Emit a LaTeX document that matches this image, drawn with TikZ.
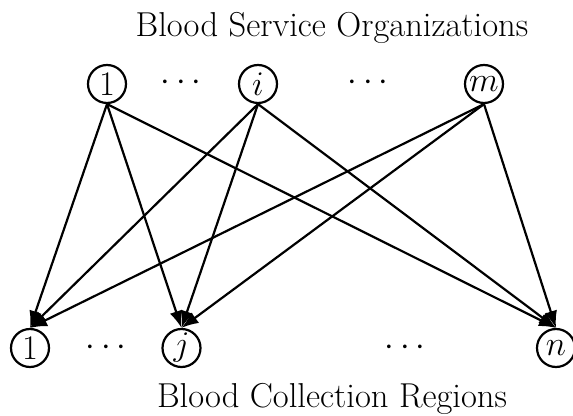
\documentclass[tikz,border=0pt]{standalone}
\usetikzlibrary{arrows.meta}
\begin{document}
\begin{tikzpicture}[x=0.5pt,y=-0.5pt,
  every node/.style={font=\fontsize{17.28}{20}\selectfont},
  org/.style={circle,draw,line width=1.1pt,minimum size=19pt,inner sep=0pt},
  flow/.style={line width=1.1pt,-{Latex[length=8.5pt,width=6.5pt]}}]
\useasboundingbox (0,0) rectangle (573,416);
% supply side
\node[anchor=base] (top) at (332,37) {Blood Service Organizations};
\node[org] (s1) at (107,84) {1};
\node[org] (si) at (258,84) {$i$};
\node[org] (sm) at (484,84) {$m$};
\node (sd1) at (181,83) {$\cdots$};
\node (sd2) at (368,83) {$\cdots$};
% demand side
\node[org] (r1) at (30,348) {1};
\node[org] (rj) at (181.5,348) {$j$};
\node[org] (rn) at (556,348) {$n$};
\node (rd1) at (106,348) {$\cdots$};
\node (rd2) at (405,348) {$\cdots$};
\node[anchor=base] (bot) at (332,408) {Blood Collection Regions};
% links
\foreach \s in {s1,si,sm}
  \foreach \r in {r1,rj,rn}
    \draw[flow] (\s.south) -- (\r.north);
\end{tikzpicture}
\end{document}
